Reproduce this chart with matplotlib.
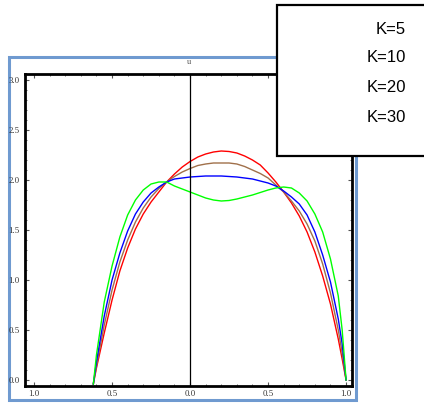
import matplotlib
matplotlib.use("Agg")
import matplotlib.pyplot as plt
from matplotlib.patches import Rectangle
from matplotlib.ticker import MultipleLocator, FixedLocator, FixedFormatter

# sample positions along the domain
x = [-0.62, -0.6, -0.55, -0.5, -0.45, -0.4, -0.35, -0.3, -0.25, -0.2, -0.15, -0.1,
     -0.05, 0.0, 0.05, 0.1, 0.15, 0.2, 0.25, 0.3, 0.35, 0.4, 0.45, 0.5, 0.55, 0.6,
     0.65, 0.7, 0.75, 0.8, 0.85, 0.9, 0.95, 0.975, 1.0]

u_k5 = [-0.04, 0.12, 0.47, 0.80, 1.09, 1.32, 1.51, 1.66, 1.78, 1.88, 1.98, 2.06,
        2.13, 2.185, 2.23, 2.26, 2.28, 2.29, 2.285, 2.27, 2.24, 2.20, 2.15, 2.07,
        1.98, 1.88, 1.77, 1.64, 1.48, 1.28, 1.04, 0.76, 0.41, 0.21, 0.0]
u_k10 = [-0.04, 0.14, 0.55, 0.90, 1.18, 1.40, 1.58, 1.72, 1.83, 1.915, 1.98, 2.035,
         2.08, 2.115, 2.145, 2.16, 2.17, 2.17, 2.17, 2.16, 2.135, 2.10, 2.065, 2.02,
         1.95, 1.88, 1.79, 1.69, 1.56, 1.39, 1.16, 0.87, 0.50, 0.27, 0.0]
u_k20 = [-0.04, 0.18, 0.64, 1.00, 1.27, 1.49, 1.66, 1.78, 1.87, 1.93, 1.98, 2.01,
         2.02, 2.03, 2.035, 2.04, 2.04, 2.04, 2.035, 2.03, 2.02, 2.01, 1.99, 1.97,
         1.94, 1.89, 1.83, 1.76, 1.65, 1.48, 1.25, 0.98, 0.61, 0.36, 0.0]
u_k30 = [-0.04, 0.25, 0.78, 1.14, 1.43, 1.65, 1.80, 1.90, 1.96, 1.98, 1.98, 1.94,
         1.91, 1.88, 1.85, 1.82, 1.80, 1.79, 1.795, 1.81, 1.83, 1.85, 1.875, 1.90,
         1.92, 1.93, 1.92, 1.87, 1.79, 1.66, 1.48, 1.21, 0.84, 0.50, 0.0]

legend_labels = ["K=5", "K=10", "K=20", "K=30"]
x_ticks = [-1.0, -0.5, 0.0, 0.5, 1.0]
x_tick_labels = ["1.0", "0.5", "0.0", "0.5", "1.0"]
y_ticks = [0.0, 0.5, 1.0, 1.5, 2.0, 2.5, 3.0]
y_tick_labels = ["0.0", "0.5", "1.0", "1.5", "2.0", "2.5", "3.0"]

W, H = 424, 405
fig = plt.figure(figsize=(W / 100, H / 100), dpi=100)
fig.patch.set_facecolor("white")

def fx(px):
    return px / W

def fy(py):
    return 1 - py / H

# outer blue frame around the plot
fig.patches.append(Rectangle((fx(9), fy(400)), fx(356) - fx(9), fy(57) - fy(400),
                             transform=fig.transFigure, fill=False,
                             edgecolor="#6f9ad0", linewidth=2.2, zorder=1))

ax = fig.add_axes([fx(25), fy(386), fx(352) - fx(25), fy(74) - fy(386)], zorder=2)
ax.set_xlim(-1.058, 1.038)
ax.set_ylim(-0.06, 3.06)

ax.plot(x, u_k5, color="#ff0000", lw=1.0)
ax.plot(x, u_k10, color="#a0704a", lw=1.0)
ax.plot(x, u_k20, color="#0000ff", lw=1.0)
ax.plot(x, u_k30, color="#00ff00", lw=1.0)
ax.axvline(0.0, color="black", lw=0.9)

for s in ax.spines.values():
    s.set_linewidth(2.0)
    s.set_color("black")

ax.xaxis.set_major_locator(FixedLocator(x_ticks))
ax.xaxis.set_major_formatter(FixedFormatter(x_tick_labels))
ax.yaxis.set_major_locator(FixedLocator(y_ticks))
ax.yaxis.set_major_formatter(FixedFormatter(y_tick_labels))
ax.xaxis.set_minor_locator(MultipleLocator(0.1))
ax.yaxis.set_minor_locator(MultipleLocator(0.1))
ax.tick_params(which="both", direction="in", top=True, right=True, color="#555555")
ax.tick_params(which="major", length=3, width=0.8, pad=3)
ax.tick_params(which="minor", length=1.5, width=0.6)
for lab in ax.get_xticklabels() + ax.get_yticklabels():
    lab.set_fontfamily("Liberation Serif")
    lab.set_fontsize(6.3)
    lab.set_color("#333333")
ax.tick_params(axis="y", pad=4)

ax.set_title("u", fontsize=6, family="Liberation Serif", color="#555555", pad=7)

# label box in the top-right corner
fig.patches.append(Rectangle((fx(277), fy(156)), fx(430) - fx(277), fy(5) - fy(156),
                             transform=fig.transFigure, facecolor="white",
                             edgecolor="black", linewidth=1.6, zorder=5))
label_y = [29, 58, 88, 118]
for lbl, py in zip(legend_labels, label_y):
    fig.text(fx(406), fy(py), lbl, ha="right", va="center", fontsize=12,
             family="Liberation Sans", color="black", zorder=6)

fig.savefig("out.png", dpi=100)
